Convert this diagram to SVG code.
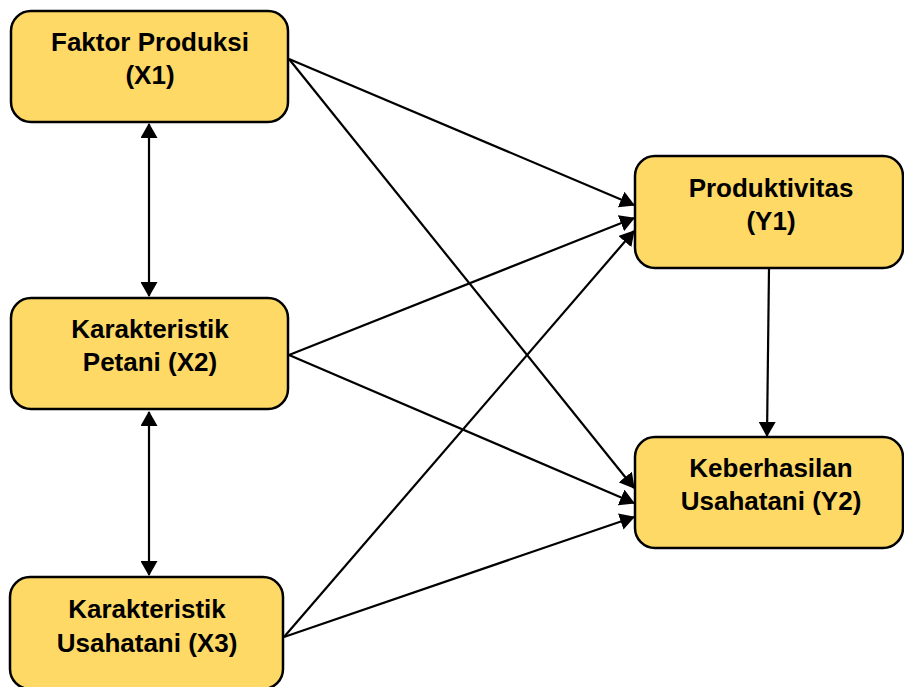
<svg xmlns="http://www.w3.org/2000/svg" width="904" height="687" viewBox="0 0 904 687">
<style>
.box{fill:#FFD966;stroke:#000;stroke-width:2.5}
.lbl{font-family:"Liberation Sans",Arial,sans-serif;font-weight:bold;font-size:26px;text-anchor:middle;fill:#000}
.c{stroke:#000;stroke-width:2.2;fill:none}
</style>
<defs>
<marker id="ah" markerWidth="16" markerHeight="17" refX="14" refY="8.5" orient="auto" markerUnits="userSpaceOnUse">
<path d="M0,0 L15,8.5 L0,17 z" fill="#000"/>
</marker>
<marker id="as" markerWidth="16" markerHeight="17" refX="1" refY="8.5" orient="auto" markerUnits="userSpaceOnUse">
<path d="M15,0 L0,8.5 L15,17 z" fill="#000"/>
</marker>
</defs>
<rect width="904" height="687" fill="#fff"/>
<g id="connectors">
<line class="c" x1="149" y1="124" x2="149" y2="296" marker-start="url(#as)" marker-end="url(#ah)"/>
<line class="c" x1="149" y1="412" x2="149" y2="575" marker-start="url(#as)" marker-end="url(#ah)"/>
<line class="c" x1="289" y1="59" x2="634" y2="205" marker-end="url(#ah)"/>
<line class="c" x1="289" y1="59" x2="634" y2="488" marker-end="url(#ah)"/>
<line class="c" x1="289" y1="355" x2="634" y2="218" marker-end="url(#ah)"/>
<line class="c" x1="289" y1="355" x2="634" y2="503" marker-end="url(#ah)"/>
<line class="c" x1="284" y1="637" x2="634" y2="231" marker-end="url(#ah)"/>
<line class="c" x1="284" y1="637" x2="634" y2="517" marker-end="url(#ah)"/>
<line class="c" x1="769" y1="268" x2="767" y2="436" marker-end="url(#ah)"/>
</g>
<g id="X1">
<rect class="box" x="11" y="11" width="277" height="111" rx="20"/>
<text class="lbl" x="150" y="51">Faktor Produksi</text>
<text class="lbl" x="150" y="84">(X1)</text>
</g>
<g id="X2">
<rect class="box" x="11" y="298" width="277" height="111" rx="20"/>
<text class="lbl" x="150" y="338">Karakteristik</text>
<text class="lbl" x="150" y="371">Petani (X2)</text>
</g>
<g id="X3">
<rect class="box" x="10" y="577" width="273" height="112" rx="20"/>
<text class="lbl" x="147" y="618">Karakteristik</text>
<text class="lbl" x="147" y="652">Usahatani (X3)</text>
</g>
<g id="Y1">
<rect class="box" x="635" y="156" width="268" height="112" rx="20"/>
<text class="lbl" x="771" y="197">Produktivitas</text>
<text class="lbl" x="771" y="230">(Y1)</text>
</g>
<g id="Y2">
<rect class="box" x="635" y="437" width="268" height="111" rx="20"/>
<text class="lbl" x="771" y="477">Keberhasilan</text>
<text class="lbl" x="771" y="510">Usahatani (Y2)</text>
</g>
</svg>
